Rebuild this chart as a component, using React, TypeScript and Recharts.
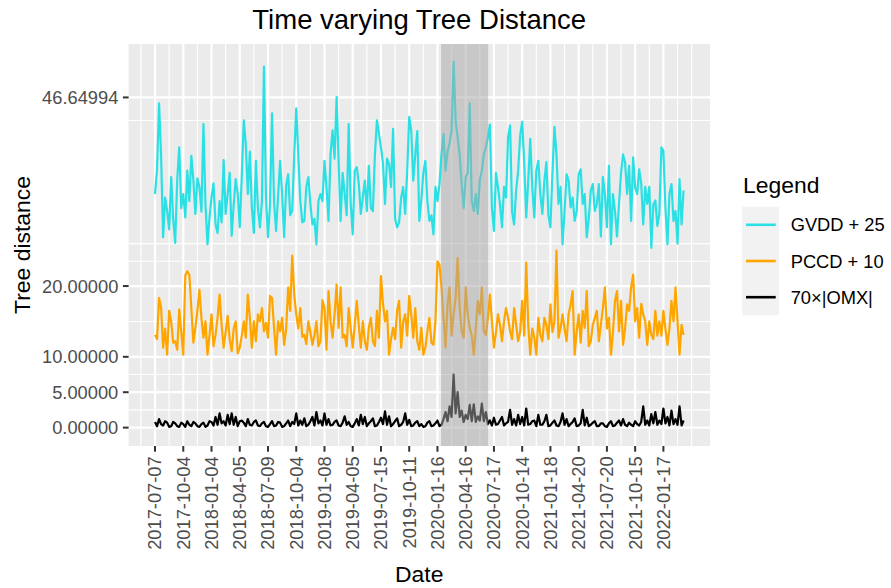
import { CartesianGrid, Line, LineChart, ReferenceArea, XAxis, YAxis } from "recharts";

const FONT = '"Liberation Sans", Arial, Helvetica, sans-serif';

// readings every 9 trading days, plus one reading half-way between each pair;
// axis labels every 63 trading days
const STEP = 9;
const TICK_EVERY = 63;

const tickDates = [
  "2017-07-07", "2017-10-04", "2018-01-04", "2018-04-05", "2018-07-09",
  "2018-10-04", "2019-01-08", "2019-04-05", "2019-07-15", "2019-10-11",
  "2020-01-16", "2020-04-16", "2020-07-17", "2020-10-14", "2021-01-18",
  "2021-04-20", "2021-07-20", "2021-10-15", "2022-01-17",
];

// GVDD + 25
const gvdd = [
  33.0, 45.8, 26.9, 30.6, 35.4, 26.1, 39.6, 33.0, 36.3, 38.4, 30.2, 34.0, 42.9, 25.9, 32.5, 28.7, 32.0, 37.8, 33.0, 27.1, 35.1, 28.3,
  43.4, 33.0, 31.1, 37.7, 28.3, 51.0, 26.9, 44.4, 27.8, 37.7, 26.9, 35.8, 30.6, 45.1, 32.1, 29.2, 35.4, 28.7, 25.9, 33.0, 37.7, 29.2,
  42.0, 46.7, 29.2, 33.0, 42.9, 27.3, 36.8, 30.2, 34.9, 37.0, 30.6, 43.4, 39.6, 31.6, 37.3, 42.2, 28.3, 32.5, 30.2, 43.9, 34.9, 41.9,
  32.1, 37.7, 29.2, 27.3, 32.0, 38.6, 36.3, 40.1, 51.7, 41.0, 34.4, 35.4, 45.8, 30.6, 30.2, 36.3, 39.6, 42.8, 27.8, 34.0, 28.3, 32.5,
  42.7, 28.7, 36.3, 43.2, 29.7, 40.8, 29.7, 37.7, 30.2, 37.5, 28.3, 42.5, 31.6, 25.9, 35.8, 31.1, 29.2, 35.8, 31.6, 26.9, 33.5, 30.6, 34.4,
  35.4, 28.3, 25.9, 30.6, 31.6, 38.6, 33.0, 29.2, 33.9, 36.5, 28.7, 31.6, 25.4, 32.1, 30.2, 39.1, 25.9, 34.4, 30.6, 35.1, 33.5,
];
const gvddMid = [
  36.5, 38.5, 32.5, 28.0, 29.5, 35.0, 31.0, 29.7, 32.0, 35.0, 35.2, 30.5, 31.6, 29.7, 34.5, 27.5, 29.0, 30.2, 36.0, 31.5, 33.0, 35.5,
  40.0, 39.0, 27.5, 31.0, 32.0, 32.5, 31.5, 31.9, 32.8, 33.0, 34.2, 30.0, 38.5, 38.6, 29.0, 34.0, 31.6, 29.5, 32.0, 32.0, 34.0, 38.6,
  38.0, 37.7, 36.0, 30.0, 31.6, 36.3, 34.5, 32.5, 30.6, 31.0, 38.6, 41.5, 37.3, 38.0, 34.0, 29.5, 29.0, 34.0, 36.3, 42.0, 38.6, 29.2,
  36.0, 32.0, 30.0, 34.0, 34.4, 41.5, 39.0, 42.0, 43.4, 38.6, 31.0, 36.0, 32.0, 33.0, 35.0, 38.6, 41.0, 31.0, 36.0, 31.5, 34.0, 41.0,
  30.5, 33.5, 41.3, 37.5, 34.9, 34.0, 36.3, 33.0, 34.9, 30.0, 36.0, 38.6, 34.0, 30.5, 34.9, 32.5, 30.6, 36.5, 33.0, 29.5, 34.4, 31.6, 27.0,
  33.0, 37.0, 33.0, 27.0, 36.0, 37.5, 37.0, 38.2, 33.0, 34.5, 34.0, 34.0, 31.5, 28.5, 39.6, 31.1, 33.0, 29.2, 26.0, 28.7,
];

// PCCD + 10
const pccd = [
  13.1, 18.3, 11.3, 10.3, 15.0, 12.2, 16.7, 10.3, 22.1, 16.9, 14.1, 19.5, 12.7, 10.3, 16.0, 13.1, 18.8, 11.3, 15.8, 10.8, 15.0, 11.3,
  15.0, 18.8, 11.3, 12.2, 15.0, 13.6, 12.7, 18.3, 10.3, 13.6, 11.7, 19.8, 24.3, 16.0, 16.9, 13.1, 15.0, 11.7, 15.0, 12.2, 16.9, 19.3,
  12.7, 20.2, 19.8, 13.1, 16.9, 11.3, 17.9, 11.3, 12.2, 14.1, 12.2, 16.5, 21.4, 15.0, 10.3, 14.1, 16.5, 11.3, 16.0, 18.6, 12.7, 12.2,
  14.1, 11.3, 15.5, 11.7, 23.5, 19.8, 11.3, 19.8, 16.0, 24.0, 13.6, 19.8, 14.1, 10.3, 17.9, 19.8, 13.1, 18.8, 11.3, 16.0, 12.2, 16.9,
  13.6, 16.9, 12.2, 17.9, 23.3, 10.3, 12.7, 15.5, 12.2, 14.5, 17.4, 15.0, 12.7, 16.0, 12.2, 17.4, 10.3, 16.0, 16.5, 19.3, 12.2, 15.5, 12.2,
  16.9, 14.0, 10.3, 17.9, 13.6, 11.7, 17.4, 19.8, 15.0, 12.7, 16.0, 11.7, 13.1, 16.5, 15.0, 16.5, 11.7, 17.9, 19.8, 10.3, 13.1,
];
const pccdMid = [
  12.5, 17.0, 14.0, 16.5, 12.0, 11.0, 13.5, 21.5, 21.6, 12.0, 16.5, 15.5, 15.0, 13.0, 11.5, 15.5, 14.5, 13.5, 12.5, 14.0, 10.5, 13.0,
  12.7, 15.5, 15.0, 16.0, 16.9, 14.8, 18.6, 14.1, 15.0, 15.5, 14.0, 16.5, 18.8, 14.0, 12.8, 11.8, 13.5, 13.0, 11.5, 18.0, 11.0, 15.0,
  16.0, 14.1, 12.7, 11.5, 14.0, 14.5, 14.5, 15.0, 11.0, 15.5, 11.5, 12.7, 17.5, 16.5, 12.5, 12.5, 17.9, 15.0, 13.0, 16.0, 16.9, 11.0,
  10.3, 13.6, 12.0, 15.0, 23.0, 15.5, 17.4, 13.0, 18.3, 17.0, 12.7, 16.0, 13.0, 14.0, 16.0, 13.6, 15.5, 15.0, 13.5, 14.5, 15.0, 15.5,
  12.5, 14.5, 13.5, 13.0, 14.5, 14.0, 10.3, 13.1, 15.5, 12.5, 13.5, 25.0, 14.0, 14.0, 16.0, 19.3, 13.6, 12.0, 14.1, 11.5, 14.5, 16.5, 14.5,
  19.8, 15.5, 13.5, 19.3, 17.9, 14.0, 16.5, 21.6, 16.9, 17.5, 15.0, 15.0, 12.5, 13.0, 13.0, 14.0, 14.0, 15.0, 15.0, 14.5,
];

// 70 x |OMX|
const omx = [
  0.8, 1.2, 0.3, 0.7, 0.2, 0.6, 0.1, 0.5, 0.9, 0.2, 0.6, 0.1, 0.7, 0.3, 0.8, 1.5, 2.0, 0.9, 1.8, 2.0, 1.5, 0.9,
  0.7, 1.2, 0.3, 1.0, 0.2, 0.8, 0.1, 0.9, 0.3, 0.7, 0.2, 1.0, 0.8, 2.0, 1.0, 1.3, 0.4, 1.5, 2.2, 1.0, 2.0, 1.2,
  0.4, 1.0, 0.2, 1.6, 0.8, 0.1, 1.2, 1.8, 1.5, 0.6, 1.3, 0.3, 1.4, 2.3, 1.6, 0.5, 1.3, 0.4, 2.0, 1.1, 0.3, 0.9,
  0.5, 0.2, 0.9, 0.3, 1.0, 0.4, 2.2, 3.0, 7.5, 5.0, 2.4, 1.8, 3.2, 3.3, 1.6, 3.4, 2.2, 1.0, 1.4, 0.5, 1.5, 0.6,
  2.5, 1.2, 1.8, 1.5, 2.7, 0.5, 1.0, 1.8, 0.4, 1.8, 0.3, 1.0, 0.2, 2.0, 1.2, 0.5, 1.3, 0.3, 2.5, 1.4, 0.4, 0.9, 0.2,
  0.6, 0.1, 0.9, 0.3, 1.0, 1.2, 0.2, 0.4, 0.9, 0.3, 3.0, 1.0, 1.9, 2.2, 1.0, 2.7, 1.5, 2.4, 1.2, 3.0, 1.0,
];
const omxMid = [
  0.2, 0.5, 0.9, 0.1, 0.8, 0.2, 0.7, 0.1, 0.4, 0.8, 0.2, 0.5, 0.1, 0.9, 0.3, 0.4, 0.6, 0.3, 0.5, 0.4, 0.2, 1.0,
  0.2, 0.4, 0.8, 0.3, 0.6, 0.2, 0.5, 0.2, 0.8, 0.1, 0.6, 0.2, 0.5, 0.3, 0.4, 0.2, 0.9, 0.3, 0.6, 0.3, 0.4, 0.3,
  0.8, 0.3, 0.7, 0.4, 0.2, 0.6, 0.3, 0.5, 0.2, 0.9, 0.2, 0.8, 0.5, 0.4, 0.2, 0.9, 0.2, 0.8, 0.4, 0.2, 0.7, 0.2,
  0.1, 0.7, 0.2, 0.6, 0.2, 1.2, 0.9, 1.5, 2.0, 1.5, 0.8, 1.2, 0.9, 0.8, 1.0, 0.9, 0.5, 0.3, 0.4, 1.0, 0.3, 0.8,
  0.4, 0.3, 0.5, 0.3, 0.4, 0.9, 0.2, 0.4, 0.9, 0.2, 0.7, 0.3, 0.8, 0.4, 0.2, 0.8, 0.2, 0.6, 0.3, 0.2, 0.7, 0.2, 0.6,
  0.2, 0.6, 0.2, 0.7, 0.3, 0.4, 0.7, 0.2, 0.5, 0.8, 0.4, 0.3, 0.6, 0.4, 0.5, 0.6, 0.3, 0.5, 0.4, 0.3,
];

const yTicks = [0, 5, 10, 20, 46.64994];
const yMinor = [2.5, 7.5, 15, 23.5, 26, 43.4];

// shaded crash window, in trading days from the first date
const shadeStart = 638;
const shadeEnd = 743;

const data = gvdd.flatMap((g, i) => {
  const rows = [{ t: i * STEP, gvdd: g, pccd: pccd[i], omx: omx[i] }];
  if (i < gvddMid.length) {
    rows.push({ t: i * STEP + STEP / 2, gvdd: gvddMid[i], pccd: pccdMid[i], omx: omxMid[i] });
  }
  return rows;
});
const xTicks = tickDates.map((_, k) => k * TICK_EVERY);
const xMinor = [-0.5, ...tickDates.map((_, k) => k + 0.5), tickDates.length].map((k) => k * TICK_EVERY);

const lastT = (gvdd.length - 1) * STEP;
const xPad = lastT * 0.05;

const series = [
  { key: "gvdd", name: "GVDD + 25", color: "#2BE0E4" },
  { key: "pccd", name: "PCCD + 10", color: "#FFA500" },
  { key: "omx", name: "70×|OMX|", color: "#000000" },
];

const XTick = ({ x, y, payload }: any) => (
  <text
    x={x}
    y={y}
    transform={`rotate(-90, ${x}, ${y})`}
    textAnchor="end"
    dy="0.35em"
    fontSize={18.3}
    fill="#4D4D4D"
    fontFamily={FONT}
  >
    {tickDates[Math.round(payload.value / TICK_EVERY)]}
  </text>
);

export default function App() {
  return (
    <div style={{ position: "absolute", left: 0, top: 0, width: 891, height: 588, background: "#fff" }}>
      <LineChart width={891} height={588} data={data} margin={{ top: 44, right: 181, left: 0, bottom: 0 }}>
        <CartesianGrid fill="#EBEBEB" stroke="#FFFFFF" strokeWidth={1.1} horizontalValues={yMinor} verticalValues={xMinor} />
        <CartesianGrid stroke="#FFFFFF" strokeWidth={2.2} horizontalValues={yTicks} verticalValues={xTicks} />
        <XAxis
          dataKey="t"
          type="number"
          domain={[-xPad, lastT + xPad]}
          ticks={xTicks}
          interval={0}
          allowDataOverflow
          axisLine={false}
          tickLine={{ stroke: "#333333", strokeWidth: 2 }}
          tickSize={5.7}
          tickMargin={4.6}
          height={142}
          tick={<XTick />}
        />
        <YAxis
          type="number"
          domain={[-2.6, 54.2]}
          ticks={yTicks}
          interval={0}
          allowDataOverflow
          axisLine={false}
          tickLine={{ stroke: "#333333", strokeWidth: 2 }}
          tickSize={5.7}
          tickMargin={4.6}
          width={128.6}
          tickFormatter={(v: number) => v.toFixed(5)}
          tick={{ fill: "#4D4D4D", fontSize: 18.3, fontFamily: FONT }}
        />
        {series.map((s) => (
          <Line
            key={s.key}
            type="linear"
            dataKey={s.key}
            stroke={s.color}
            strokeWidth={2.2}
            strokeLinejoin="round"
            dot={false}
            activeDot={false}
            isAnimationActive={false}
          />
        ))}
        <ReferenceArea x1={shadeStart} x2={shadeEnd} fill="#A7A7A7" fillOpacity={0.51} stroke="none" zIndex={450} />
      </LineChart>
      <svg
        width={891}
        height={588}
        style={{ position: "absolute", left: 0, top: 0, pointerEvents: "none" }}
        fontFamily={FONT}
      >
        <text x={419.2} y={28.5} textAnchor="middle" fontSize={27.5} fill="#000">
          Time varying Tree Distance
        </text>
        <text x={29.5} y={245} transform="rotate(-90, 29.5, 245)" textAnchor="middle" fontSize={22.9} fill="#000">
          Tree distance
        </text>
        <text x={419.2} y={581.5} textAnchor="middle" fontSize={22.9} fill="#000">
          Date
        </text>
        <text x={743} y={192.5} fontSize={22.9} fill="#000">
          Legend
        </text>
        <rect x={742.3} y={206.7} width={36.7} height={108.6} fill="#F2F2F2" />
        {series.map((s, i) => (
          <g key={s.key}>
            <line x1={746} x2={775.7} y1={224.8 + i * 36.2} y2={224.8 + i * 36.2} stroke={s.color} strokeWidth={2.6} />
            <text x={790.7} y={231.3 + i * 36.2} fontSize={18.3} fill="#000">
              {s.name}
            </text>
          </g>
        ))}
      </svg>
    </div>
  );
}
